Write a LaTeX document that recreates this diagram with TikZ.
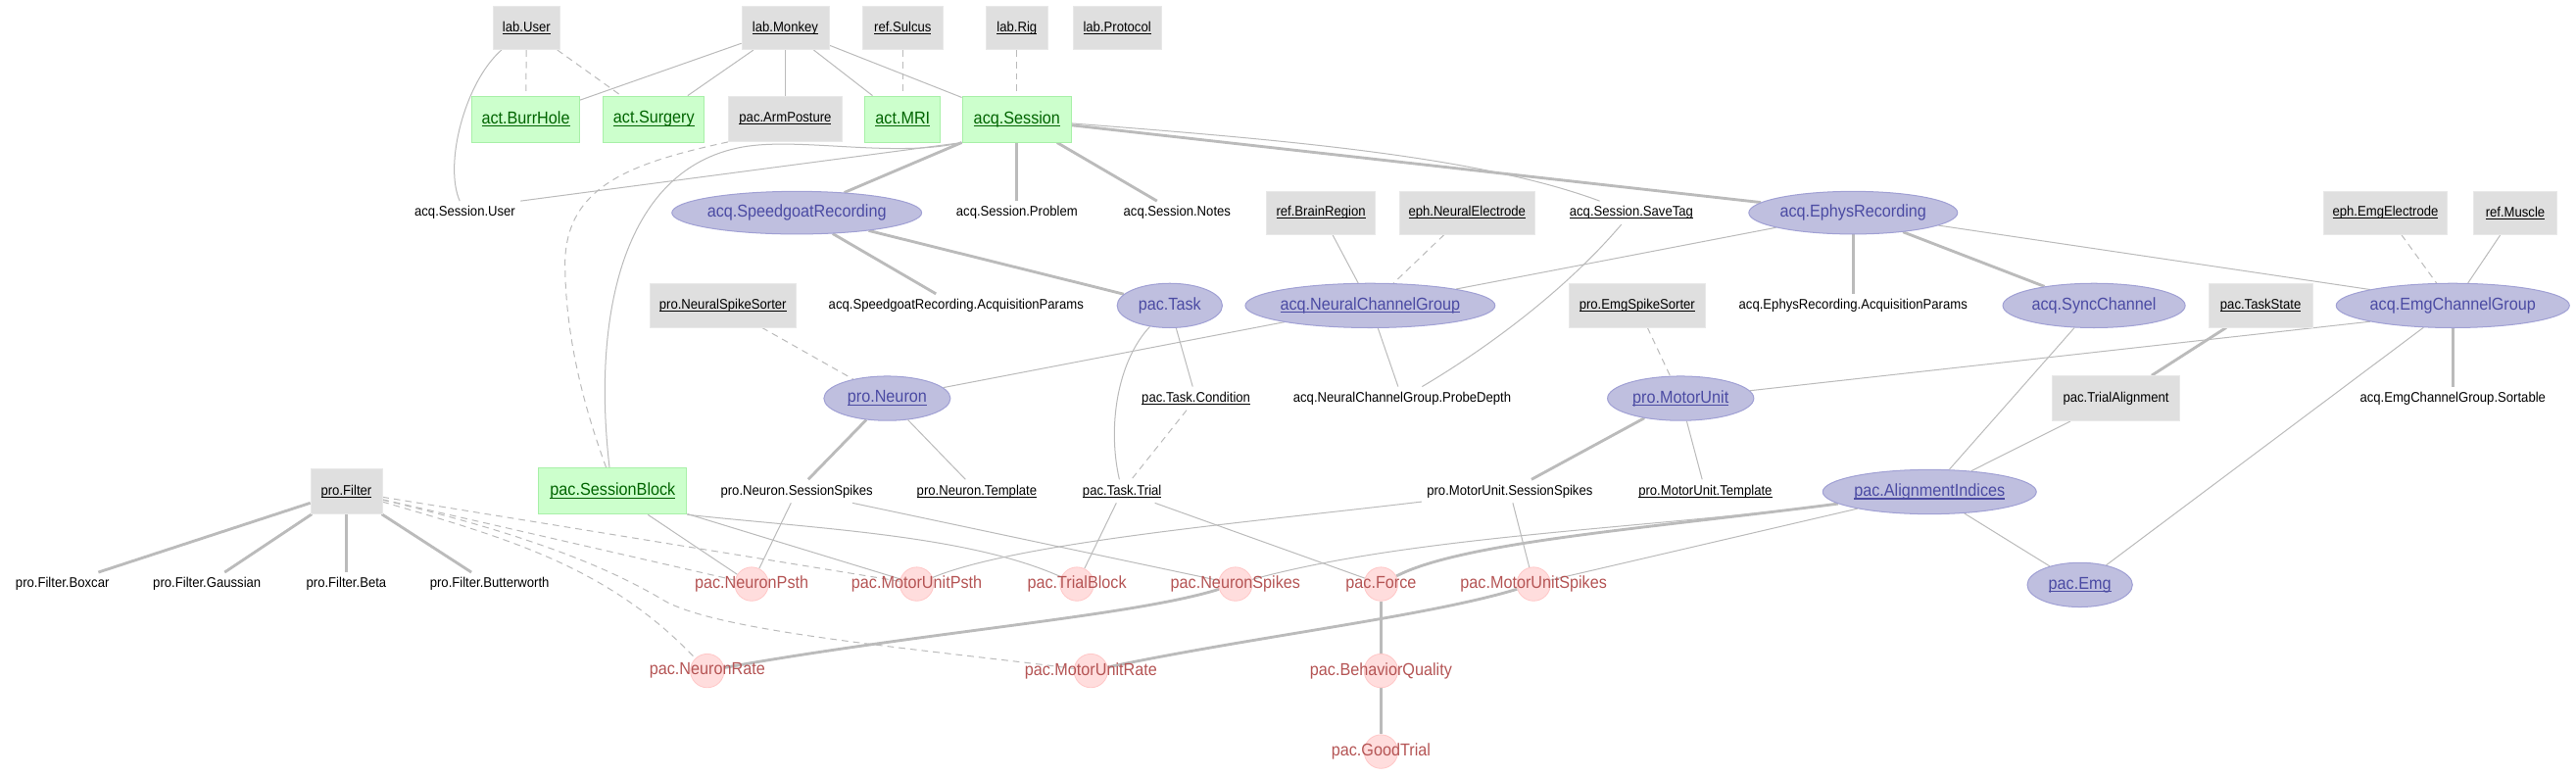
\documentclass[tikz,border=0pt]{standalone}
\usepackage{fontspec}
\setmainfont{Liberation Sans}[FakeStretch=0.92]
\usetikzlibrary{shapes.geometric}
\pgfdeclarelayer{bg}
\pgfsetlayers{bg,main}
\definecolor{edgec}{HTML}{BBBBBB}
\definecolor{lkfill}{HTML}{DFDFDF}
\definecolor{lkdraw}{HTML}{E8E8E8}
\definecolor{mnfill}{HTML}{CCFFCC}
\definecolor{mndraw}{HTML}{A8F0A8}
\definecolor{mntext}{HTML}{006400}
\definecolor{imfill}{HTML}{BFBFDF}
\definecolor{imdraw}{HTML}{A0A0D4}
\definecolor{imtext}{HTML}{4B4BA3}
\definecolor{cpfill}{HTML}{FFDDDD}
\definecolor{cpdraw}{HTML}{FFC8C8}
\definecolor{cptext}{HTML}{B55555}
\newcommand\fsm{\fontsize{8.5pt}{10pt}\selectfont}
\newcommand\fbg{\fontsize{10.5pt}{12pt}\selectfont}
\newcommand\ulx[1]{\setbox0=\hbox{#1}\rlap{\rule[-0.17em]{\wd0}{0.065em}}\box0}
\tikzset{
  ethin/.style={draw=edgec, line width=0.6pt},
  ethick/.style={draw=edgec, line width=1.7pt},
  edash/.style={draw=edgec, line width=0.6pt, dash pattern=on 4pt off 3pt},
  lk/.style={rectangle, fill=lkfill, draw=lkdraw, line width=0.4pt, minimum height=26.5pt, minimum width=#1, inner sep=0pt, font=\fsm, text=black},
  mn/.style={rectangle, fill=mnfill, draw=mndraw, line width=0.6pt, minimum height=28pt, minimum width=#1, inner sep=0pt, font=\fbg, text=mntext},
  im/.style 2 args={ellipse, fill=imfill, draw=imdraw, line width=0.6pt, minimum width=#1, minimum height=#2, inner sep=0pt},
  imt/.style={font=\fbg, text=imtext, inner sep=0pt},
  cp/.style={circle, fill=cpfill, draw=cpdraw, line width=0.5pt, minimum size=20.5pt, inner sep=0pt},
  cpt/.style={font=\fbg, text=cptext, inner sep=0pt},
  prt/.style={font=\fsm, text=black, inner xsep=3pt, inner ysep=3pt}
}
\begin{document}
\begin{tikzpicture}[x=1pt,y=-1pt]
\useasboundingbox (0,0) rectangle (1568,471.8);
% ---------- row 1
\node[lk=41pt] (labUser) at (320.5,17) {\ulx{lab.User}};
\node[lk=53pt] (labMonkey) at (478,17) {\ulx{lab.Monkey}};
\node[lk=49pt] (refSulcus) at (549.5,17) {\ulx{ref.Sulcus}};
\node[lk=37.5pt] (labRig) at (619,17) {\ulx{lab.Rig}};
\node[lk=54pt] (labProtocol) at (680,17) {\ulx{lab.Protocol}};
% ---------- row 2
\node[mn=65.5pt] (burrHole) at (320,72.5) {\ulx{act.BurrHole}};
\node[mn=61.5pt] (surgery) at (398,72.5) {\ulx{act.Surgery}};
\node[lk=69.5pt, minimum height=27.5pt] (armPosture) at (478,72.5) {\ulx{pac.ArmPosture}};
\node[mn=46pt] (mri) at (549.5,72.5) {\ulx{act.MRI}};
\node[mn=66.5pt] (acqSession) at (619,72.5) {\ulx{acq.Session}};
% ---------- row 3
\node[prt] (sessUser) at (283,129.5) {acq.Session.User};
\node[im={152pt}{26pt}] (speedgoat) at (485,129.5) {};
\node[imt] (speedgoat-t) at (speedgoat) {acq.SpeedgoatRecording};
\node[prt] (sessProblem) at (619,129.5) {acq.Session.Problem};
\node[prt] (sessNotes) at (716.5,129.5) {acq.Session.Notes};
\node[lk=66pt] (brainRegion) at (804,129.5) {\ulx{ref.BrainRegion}};
\node[lk=82pt] (neuralElectrode) at (893,129.5) {\ulx{eph.NeuralElectrode}};
\node[prt] (saveTag) at (993,129.5) {\ulx{acq.Session.SaveTag}};
\node[im={127pt}{26pt}] (ephys) at (1128,129.5) {};
\node[imt] (ephys-t) at (ephys) {acq.EphysRecording};
\node[lk=75pt] (emgElectrode) at (1452,129.5) {\ulx{eph.EmgElectrode}};
\node[lk=51pt] (refMuscle) at (1531,129.5) {\ulx{ref.Muscle}};
% ---------- row 4
\node[lk=89pt] (neuralSpikeSorter) at (440,186) {\ulx{pro.NeuralSpikeSorter}};
\node[prt] (sgParams) at (582,186) {acq.SpeedgoatRecording.AcquisitionParams};
\node[im={64pt}{27pt}] (pacTask) at (712,186) {};
\node[imt] (pacTask-t) at (pacTask) {pac.Task};
\node[im={152pt}{27pt}] (ncg) at (834,186) {};
\node[imt] (ncg-t) at (ncg) {\ulx{acq.NeuralChannelGroup}};
\node[lk=83pt] (emgSpikeSorter) at (996.5,186) {\ulx{pro.EmgSpikeSorter}};
\node[prt] (ephysParams) at (1128,186) {acq.EphysRecording.AcquisitionParams};
\node[im={111pt}{27pt}] (sync) at (1274.6,186) {};
\node[imt] (sync-t) at (sync) {acq.SyncChannel};
\node[lk=63.5pt] (taskState) at (1376,186) {\ulx{pac.TaskState}};
\node[im={142pt}{27pt}] (ecg) at (1493,186) {};
\node[imt] (ecg-t) at (ecg) {acq.EmgChannelGroup};
% ---------- row 5
\node[im={77pt}{27pt}] (proNeuron) at (540,242.5) {};
\node[imt] (proNeuron-t) at (proNeuron) {\ulx{pro.Neuron}};
\node[prt] (taskCondition) at (728,242.5) {\ulx{pac.Task.Condition}};
\node[prt] (probeDepth) at (853.5,242.5) {acq.NeuralChannelGroup.ProbeDepth};
\node[im={89pt}{27pt}] (proMotorUnit) at (1023,242.5) {};
\node[imt] (proMotorUnit-t) at (proMotorUnit) {\ulx{pro.MotorUnit}};
\node[lk=77.5pt, minimum height=27.5pt] (trialAlignment) at (1288,242.5) {pac.TrialAlignment};
\node[prt] (ecgSortable) at (1493,242.5) {acq.EmgChannelGroup.Sortable};
% ---------- row 6
\node[lk=43.5pt, minimum height=27.5pt] (proFilter) at (210.8,299) {\ulx{pro.Filter}};
\node[mn=90pt] (sessBlock) at (373,299) {\ulx{pac.SessionBlock}};
\node[prt] (neuronSS) at (485,299) {pro.Neuron.SessionSpikes};
\node[prt] (neuronTemplate) at (594.6,299) {\ulx{pro.Neuron.Template}};
\node[prt] (taskTrial) at (683,299) {\ulx{pac.Task.Trial}};
\node[prt] (muSS) at (919,299) {pro.MotorUnit.SessionSpikes};
\node[prt] (muTemplate) at (1038,299) {\ulx{pro.MotorUnit.Template}};
\node[im={130pt}{27pt}] (ai) at (1174.5,299.4) {};
\node[imt] (ai-t) at (ai) {\ulx{pac.AlignmentIndices}};
% ---------- row 7
\node[prt] (boxcar) at (38,355.5) {pro.Filter.Boxcar};
\node[prt] (gaussian) at (126,355.5) {pro.Filter.Gaussian};
\node[prt] (beta) at (210.8,355.5) {pro.Filter.Beta};
\node[prt] (butterworth) at (298,355.5) {pro.Filter.Butterworth};
\node[cp] (neuronPsth) at (457.5,355.5) {};
\node[cpt] (neuronPsth-t) at (neuronPsth) {pac.NeuronPsth};
\node[cp] (muPsth) at (558,355.5) {};
\node[cpt] (muPsth-t) at (muPsth) {pac.MotorUnitPsth};
\node[cp] (trialBlock) at (655.5,355.5) {};
\node[cpt] (trialBlock-t) at (trialBlock) {pac.TrialBlock};
\node[cp] (neuronSpikes) at (752,355.5) {};
\node[cpt] (neuronSpikes-t) at (neuronSpikes) {pac.NeuronSpikes};
\node[cp] (force) at (840.6,355.5) {};
\node[cpt] (force-t) at (force) {pac.Force};
\node[cp] (muSpikes) at (933.5,355.5) {};
\node[cpt] (muSpikes-t) at (muSpikes) {pac.MotorUnitSpikes};
\node[im={64pt}{27pt}] (pacEmg) at (1266,356) {};
\node[imt] (pacEmg-t) at (pacEmg) {\ulx{pac.Emg}};
% ---------- rows 8, 9
\node[cp] (neuronRate) at (430.5,408.3) {};
\node[cpt] (neuronRate-t) at (neuronRate) {pac.NeuronRate};
\node[cp] (muRate) at (664,408.3) {};
\node[cpt] (muRate-t) at (muRate) {pac.MotorUnitRate};
\node[cp] (behaviorQuality) at (840.6,408.3) {};
\node[cpt] (behaviorQuality-t) at (behaviorQuality) {pac.BehaviorQuality};
\node[cp] (goodTrial) at (840.6,457.5) {};
\node[cpt] (goodTrial-t) at (goodTrial) {pac.GoodTrial};
% ---------- edges
\begin{pgfonlayer}{bg}
\fill[white] (0,0) rectangle (1568,471.8);
\draw[edash] (labUser) -- (burrHole);
\draw[edash] (labUser) -- (surgery);
\draw[ethin] (labUser) .. controls (283,50) and (270,100) .. (sessUser);
\draw[ethin] (labMonkey) -- (burrHole);
\draw[ethin] (labMonkey) -- (surgery);
\draw[ethin] (labMonkey) -- (armPosture);
\draw[ethin] (labMonkey) -- (mri);
\draw[ethin] (labMonkey) -- (acqSession);
\draw[edash] (refSulcus) -- (mri);
\draw[edash] (labRig) -- (acqSession);
\draw[ethin] (acqSession.south west) -- (sessUser.north east);
\draw[ethin] (acqSession.south west) .. controls (545,96) and (490,84) .. (455,89) .. controls (380,100) and (360,190) .. ([xshift=-2pt]sessBlock.north);
\draw[edash] (armPosture.south west) .. controls (380,100) and (342,115) .. (344,165) .. controls (345,215) and (360,260) .. ([xshift=-4pt]sessBlock.north);
\draw[ethick] (acqSession) -- (speedgoat);
\draw[ethick] (acqSession) -- (sessProblem);
\draw[ethick] (acqSession) -- (sessNotes);
\draw[ethin] (acqSession) .. controls (780,85) and (900,95) .. (saveTag);
\draw[ethick] (acqSession) -- (ephys);
\draw[ethick] (speedgoat) -- (sgParams);
\draw[ethick] (speedgoat) -- (pacTask);
\draw[ethin] (brainRegion) -- (ncg);
\draw[edash] (neuralElectrode) -- (ncg);
\draw[ethin] (ephys) -- (ncg);
\draw[ethick] (ephys) -- (ephysParams);
\draw[ethick] (ephys) -- (sync);
\draw[ethin] (ephys) -- (ecg.north west);
\draw[edash] (emgElectrode) -- (ecg);
\draw[ethin] (refMuscle) -- (ecg);
\draw[ethin] (saveTag) .. controls (950,180) and (900,215) .. (probeDepth);
\draw[ethin] (ncg) -- (probeDepth);
\draw[ethin] (ncg) -- (proNeuron);
\draw[edash] (neuralSpikeSorter) -- (proNeuron);
\draw[ethin] (pacTask) -- (taskCondition);
\draw[ethin] (pacTask) .. controls (680,220) and (674,260) .. (taskTrial);
\draw[edash] (taskCondition) -- (taskTrial);
\draw[edash] (emgSpikeSorter) -- (proMotorUnit);
\draw[ethin] (ecg.south west) -- (proMotorUnit);
\draw[ethick] (ecg) -- (ecgSortable);
\draw[ethin] (ecg) -- (pacEmg);
\draw[ethick] (taskState) -- (trialAlignment);
\draw[ethin] (sync) -- (ai);
\draw[ethin] (trialAlignment) -- (ai);
\draw[ethick] (proNeuron) -- (neuronSS);
\draw[ethin] (proNeuron) -- (neuronTemplate);
\draw[ethick] (proMotorUnit) -- (muSS);
\draw[ethin] (proMotorUnit) -- (muTemplate);
\draw[ethin] (ai) -- (pacEmg);
\draw[ethin] (ai) .. controls (1000,322) and (860,326) .. (neuronSpikes);
\draw[ethick] (ai) .. controls (1000,322) and (890,330) .. (force);
\draw[ethin] (ai) -- (muSpikes);
\draw[ethin] (taskTrial) -- (trialBlock);
\draw[ethin] (taskTrial) -- (force);
\draw[ethin] (muSS) .. controls (760,318) and (620,330) .. (muPsth);
\draw[ethin] (muSS) -- (muSpikes);
\draw[ethin] (neuronSS) -- (neuronPsth);
\draw[ethin] (neuronSS) -- (neuronSpikes);
\draw[ethin] (sessBlock) -- (neuronPsth);
\draw[ethin] (sessBlock) -- (muPsth);
\draw[ethin] (sessBlock.south east) .. controls (500,322) and (590,326) .. (trialBlock);
\draw[edash] (proFilter) -- (neuronPsth);
\draw[edash] (proFilter) -- (muPsth);
\draw[edash] (proFilter) .. controls (310,328) and (370,345) .. (neuronRate);
\draw[edash] (proFilter) .. controls (320,325) and (370,345) .. (405,366) .. controls (440,385) and (560,395) .. (muRate);
\draw[ethick] (neuronSpikes) .. controls (690,375) and (560,385) .. (neuronRate);
\draw[ethick] (muSpikes) .. controls (870,375) and (760,388) .. (muRate);
\draw[ethick] (force) -- (behaviorQuality);
\draw[ethick] (behaviorQuality) -- (goodTrial);
\draw[ethick] (proFilter) -- (boxcar);
\draw[ethick] (proFilter) -- (gaussian);
\draw[ethick] (proFilter) -- (beta);
\draw[ethick] (proFilter) -- (butterworth);
\end{pgfonlayer}
\end{tikzpicture}
\end{document}
